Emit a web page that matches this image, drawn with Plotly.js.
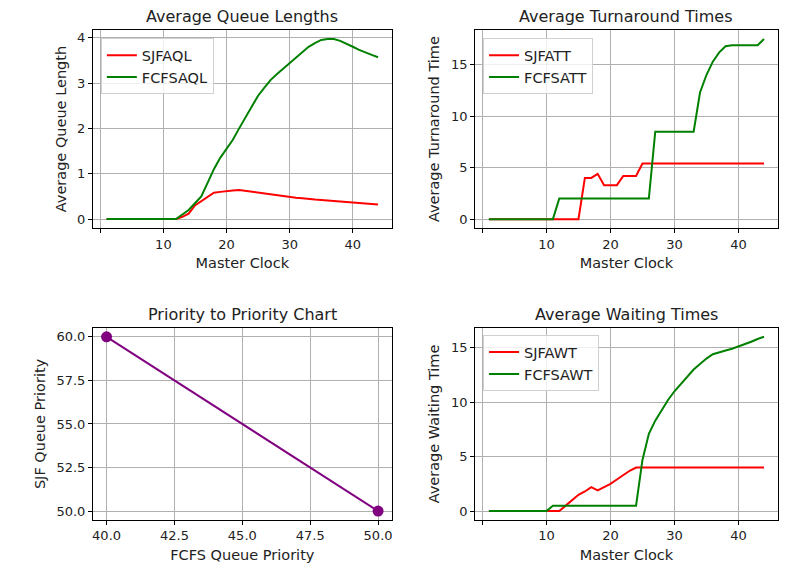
<!DOCTYPE html>
<html>
<head>
<script src="https://cdn.plot.ly/plotly-3.0.1.min.js"></script>
<style>body{margin:0}#chart{width:788px;height:588px}</style>
</head>
<body>
<div id="chart"></div>
<script>
const clock = Array.from({ length: 44 }, (_, i) => i + 1);
const zeros = n => Array(n).fill(0);

const sjfAQL = zeros(12).concat([0.05, 0.12, 0.3, 0.4, 0.5, 0.58, 0.6, 0.62, 0.63, 0.64, 0.62, 0.6, 0.58, 0.56, 0.54, 0.52, 0.5, 0.49, 0.47, 0.46, 0.44, 0.43, 0.42, 0.41, 0.4, 0.39, 0.38, 0.37, 0.36, 0.35, 0.34, 0.32]);
const fcfsAQL = zeros(12).concat([0.1, 0.2, 0.35, 0.5, 0.8, 1.1, 1.35, 1.55, 1.75, 2.0, 2.25, 2.5, 2.72, 2.9, 3.07, 3.2, 3.32, 3.45, 3.57, 3.68, 3.8, 3.88, 3.95, 3.97, 3.97, 3.93, 3.87, 3.8, 3.73, 3.67, 3.62, 3.57]);

const sjfATT = zeros(15).concat([4, 4, 4.4, 3.3, 3.3, 3.3, 4.2, 4.2, 4.2, 5.4]).concat(Array(19).fill(5.4));
const fcfsATT = zeros(11).concat(Array(15).fill(2)).concat(Array(7).fill(8.5)).concat([12.3, 14, 15.3, 16.2, 16.8, 16.9, 16.9, 16.9, 16.9, 16.9, 17.5]);

const fcfsPriority = [40, 50];
const sjfPriority = [60, 50];

const sjfAWT = zeros(12).concat([0.5, 1.0, 1.5, 1.8, 2.2, 1.9, 2.2, 2.5, 2.9, 3.3, 3.7, 4.0]).concat(Array(20).fill(4.0));
const fcfsAWT = zeros(10).concat(Array(14).fill(0.5)).concat([4.7, 7.1, 8.3, 9.3, 10.2, 11, 11.7, 12.4, 13, 13.5, 14, 14.4, 14.6, 14.75, 14.9, 15.1, 15.3, 15.55, 15.8, 16.0]);

const RED = '#ff0000', GREEN = '#008000', PURPLE = '#800080';
const font = { family: 'DejaVu Sans', size: 13, color: '#222' };

const traces = [
  { x: clock, y: sjfAQL, name: 'SJFAQL', line: { color: RED, width: 2 }, xaxis: 'x', yaxis: 'y', legend: 'legend' },
  { x: clock, y: fcfsAQL, name: 'FCFSAQL', line: { color: GREEN, width: 2 }, xaxis: 'x', yaxis: 'y', legend: 'legend' },
  { x: clock, y: sjfATT, name: 'SJFATT', line: { color: RED, width: 2 }, xaxis: 'x2', yaxis: 'y2', legend: 'legend2' },
  { x: clock, y: fcfsATT, name: 'FCFSATT', line: { color: GREEN, width: 2 }, xaxis: 'x2', yaxis: 'y2', legend: 'legend2' },
  { x: fcfsPriority, y: sjfPriority, mode: 'lines+markers', showlegend: false, line: { color: PURPLE, width: 2 }, marker: { color: PURPLE, size: 11 }, xaxis: 'x3', yaxis: 'y3' },
  { x: clock, y: sjfAWT, name: 'SJFAWT', line: { color: RED, width: 2 }, xaxis: 'x4', yaxis: 'y4', legend: 'legend3' },
  { x: clock, y: fcfsAWT, name: 'FCFSAWT', line: { color: GREEN, width: 2 }, xaxis: 'x4', yaxis: 'y4', legend: 'legend3' }
].map(t => Object.assign({ type: 'scatter', mode: 'lines' }, t));

const axisBase = {
  showline: true, mirror: true, linecolor: '#000', linewidth: 1,
  ticks: 'outside', ticklen: 4, tickcolor: '#000',
  showgrid: true, gridcolor: '#b0b0b0', gridwidth: 1, zeroline: false,
  tickfont: { family: 'DejaVu Sans', size: 13, color: '#222' }
};
const ax = (extra, title) => Object.assign({}, axisBase, extra,
  { title: { text: title, font: { family: 'DejaVu Sans', size: 14.5, color: '#222' }, standoff: 7 } });

const colX1 = [0.118, 0.497], colX2 = [0.603, 0.987];
const rowTop = [0.612, 0.949], rowBot = [0.116, 0.442];
const clockTicks = { tickvals: [0, 10, 20, 30, 40], ticktext: ['', '10', '20', '30', '40'], range: [-1.15, 46.15] };

const legendBase = {
  bgcolor: 'rgba(255,255,255,0.8)', bordercolor: '#d0d0d0', borderwidth: 1,
  font: { family: 'DejaVu Sans', size: 14.5, color: '#222' }, xanchor: 'left', yanchor: 'top',
  tracegroupgap: 2
};

const titleAnn = (text, x, y) => ({
  text, x, y, xref: 'paper', yref: 'paper', xanchor: 'center', yanchor: 'bottom',
  showarrow: false, font: { family: 'DejaVu Sans', size: 16, color: '#222' }
});

const layout = {
  width: 788, height: 588,
  margin: { l: 0, r: 0, t: 0, b: 0 },
  paper_bgcolor: '#fff', plot_bgcolor: '#fff', font,
  xaxis: ax(Object.assign({ domain: colX1, anchor: 'y' }, clockTicks), 'Master Clock'),
  yaxis: ax({ domain: rowTop, anchor: 'x', range: [-0.2, 4.17], tickvals: [0, 1, 2, 3, 4] }, 'Average Queue Length'),
  xaxis2: ax(Object.assign({ domain: colX2, anchor: 'y2' }, clockTicks), 'Master Clock'),
  yaxis2: ax({ domain: rowTop, anchor: 'x2', range: [-0.875, 18.375], tickvals: [0, 5, 10, 15] }, 'Average Turnaround Time'),
  xaxis3: ax({ domain: colX1, anchor: 'y3', range: [39.5, 50.5], tickvals: [40, 42.5, 45, 47.5, 50], tickformat: '.1f' }, 'FCFS Queue Priority'),
  yaxis3: ax({ domain: rowBot, anchor: 'x3', range: [49.5, 60.5], tickvals: [50, 52.5, 55, 57.5, 60], tickformat: '.1f' }, 'SJF Queue Priority'),
  xaxis4: ax(Object.assign({ domain: colX2, anchor: 'y4' }, clockTicks), 'Master Clock'),
  yaxis4: ax({ domain: rowBot, anchor: 'x4', range: [-0.8, 16.8], tickvals: [0, 5, 10, 15] }, 'Average Waiting Time'),
  legend: Object.assign({}, legendBase, { x: 0.128, y: 0.935 }),
  legend2: Object.assign({}, legendBase, { x: 0.613, y: 0.935 }),
  legend3: Object.assign({}, legendBase, { x: 0.613, y: 0.43 }),
  annotations: [
    titleAnn('Average Queue Lengths', 0.3075, 0.953),
    titleAnn('Average Turnaround Times', 0.795, 0.953),
    titleAnn('Priority to Priority Chart', 0.3075, 0.446),
    titleAnn('Average Waiting Times', 0.795, 0.446)
  ]
};

Plotly.newPlot('chart', traces, layout, { displayModeBar: false, staticPlot: true });
</script>
</body>
</html>
